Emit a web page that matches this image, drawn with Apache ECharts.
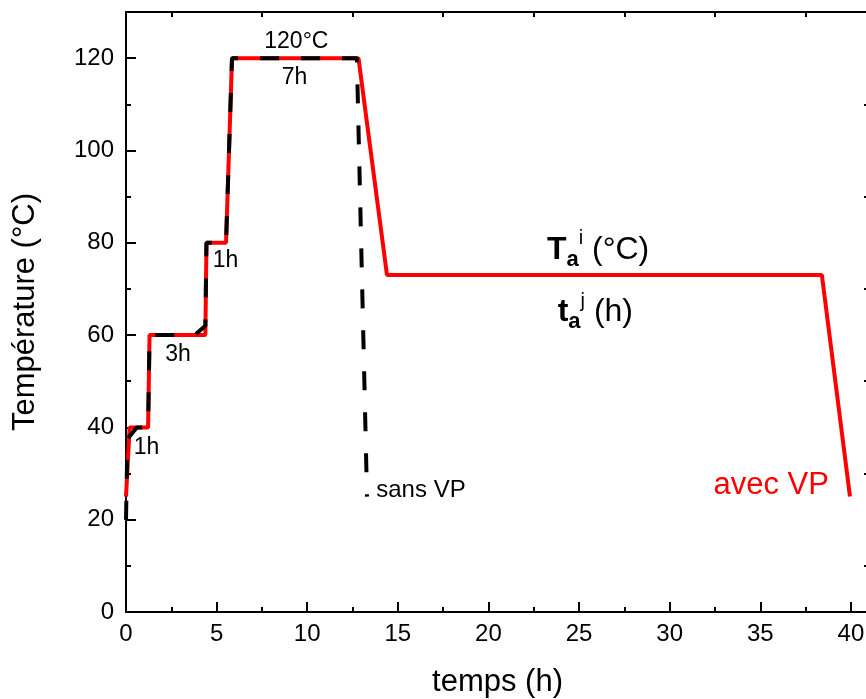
<!DOCTYPE html>
<html>
<head>
<meta charset="utf-8">
<script src="https://cdn.jsdelivr.net/npm/echarts@6/dist/echarts.min.js"></script>
<style>
  html, body { margin: 0; padding: 0; background: #fff; }
  #chart { width: 866px; height: 699px; }
</style>
</head>
<body>
<div id="chart"></div>
<script>
// profil avec VP (rouge)
const avecX = [0, 0.2, 1.22, 1.3, 4.38, 4.44, 5.52, 5.85, 12.83, 14.4, 38.4, 39.95];
const avecY = [25, 40, 40, 60, 60, 80, 80, 120, 120, 73, 73, 25];
// profil sans VP (noir, tirets)
const sansX = [0, 0.08, 0.6, 1.22, 1.3, 3.8, 4.38, 4.44, 5.52, 5.85, 12.74, 13.3];
const sansY = [20, 37.5, 40, 40, 60, 60, 62, 80, 80, 120, 120, 25];

const xMajor = [0, 5, 10, 15, 20, 25, 30, 35, 40];
const xMinor = [2.5, 7.5, 12.5, 17.5, 22.5, 27.5, 32.5, 37.5];
const yMajor = [0, 20, 40, 60, 80, 100, 120];
const yMinor = [10, 30, 50, 70, 90, 110];

const FONT = "'Liberation Sans', Arial, sans-serif";

function zip(xs, ys) {
  return xs.map((x, i) => [x, ys[i]]);
}

const chart = echarts.init(document.getElementById("chart"));

// un axe = une rangée de graduations (majeures, mineures, haut, droite)
function axis(position, max, ticks, len, opts) {
  return Object.assign({
    type: "value",
    position: position,
    min: 0,
    max: max,
    splitLine: { show: false },
    axisLine: { show: true, onZero: false, lineStyle: { color: "#000", width: 2 } },
    axisTick: { show: true, inside: true, length: len, customValues: ticks, lineStyle: { color: "#000", width: 2 } },
    axisLabel: { show: false },
  }, opts || {});
}

const noteStyle = { color: "#000", fontSize: 23, fontFamily: FONT, opacity: 1 };

const richT = {
  B: { fontSize: 32, fontWeight: "bold", fontFamily: FONT, color: "#000", lineHeight: 42, verticalAlign: "middle" },
  sub: { fontSize: 22, fontWeight: "bold", fontFamily: FONT, color: "#000", lineHeight: 22, verticalAlign: "bottom" },
  sup: { fontSize: 20, fontFamily: FONT, color: "#000", lineHeight: 20, verticalAlign: "top" },
  n: { fontSize: 32, fontFamily: FONT, color: "#000", lineHeight: 42, verticalAlign: "middle" },
};

chart.setOption({
  animation: false,
  backgroundColor: "#fff",
  grid: { left: 126, right: -3, top: 12, bottom: 87, containLabel: false, outerBoundsMode: "none" },
  xAxis: [
    axis("bottom", 41, xMajor, 10, {
      axisLabel: { show: true, customValues: xMajor, color: "#000", fontSize: 24, fontFamily: FONT, margin: 10 },
      name: "temps (h)",
      nameLocation: "middle",
      nameGap: 55,
      nameTextStyle: { color: "#000", fontSize: 31, fontFamily: FONT },
    }),
    axis("bottom", 41, xMinor, 5, { axisLine: { show: false, onZero: false } }),
    axis("top", 41, xMinor, 5),
  ],
  yAxis: [
    axis("left", 130, yMajor, 10, {
      axisLabel: { show: true, customValues: yMajor, color: "#000", fontSize: 24, fontFamily: FONT, margin: 12 },
      name: "Température (°C)",
      nameLocation: "middle",
      nameGap: 85,
      nameTextStyle: { color: "#000", fontSize: 31, fontFamily: FONT },
    }),
    axis("left", 130, yMinor, 5, { axisLine: { show: false, onZero: false } }),
    axis("right", 130, yMinor, 5),
  ],
  series: [
    {
      name: "avec VP",
      type: "line",
      data: zip(avecX, avecY),
      symbol: "none",
      lineStyle: { color: "#ff0000", width: 4 },
      z: 2,
    },
    {
      name: "sans VP",
      type: "line",
      data: zip(sansX, sansY),
      symbol: "none",
      lineStyle: { color: "#000", width: 4, type: [19, 22], cap: "butt" },
      z: 3,
    },
    {
      name: "notes",
      type: "scatter",
      symbolSize: 0,
      silent: true,
      z: 4,
      itemStyle: { opacity: 1 },
      label: { show: true, position: "inside", formatter: (p) => p.name },
      data: [
        { name: "120°C", value: [9.4, 123.6], label: Object.assign({}, noteStyle) },
        { name: "7h", value: [9.3, 115.8], label: Object.assign({}, noteStyle) },
        { name: "1h", value: [1.13, 35.5], label: Object.assign({}, noteStyle) },
        { name: "3h", value: [2.87, 55.7], label: Object.assign({}, noteStyle) },
        { name: "1h", value: [5.49, 76.1], label: Object.assign({}, noteStyle) },
        { name: "sans VP", value: [13.81, 26.4], label: Object.assign({}, noteStyle, { fontSize: 24, align: "left" }) },
        { name: "avec VP", value: [35.6, 27.5], label: Object.assign({}, noteStyle, { fontSize: 31, color: "#ff0000" }) },
        {
          name: "Ta",
          value: [26.05, 78.5],
          label: { formatter: "{B|T}{sub|a}{sup|i}{n| (°C)}", rich: richT },
        },
        {
          name: "ta",
          value: [25.9, 65],
          label: { formatter: "{B|t}{sub|a}{sup|j}{n| (h)}", rich: richT },
        },
      ],
    },
  ],
});
</script>
</body>
</html>
